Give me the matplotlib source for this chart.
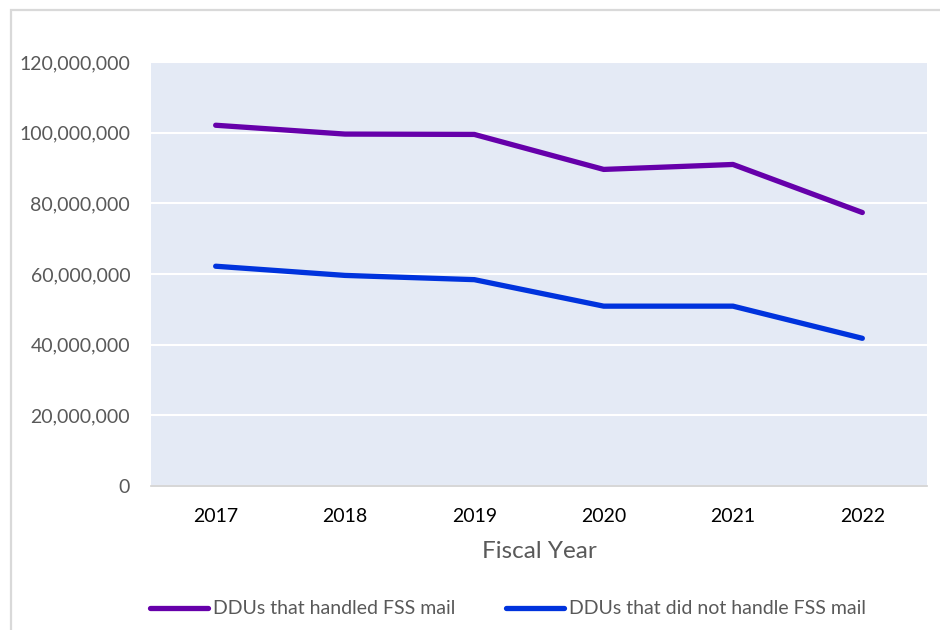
import matplotlib
matplotlib.use("Agg")
import matplotlib.pyplot as plt
from matplotlib.patches import Rectangle
from matplotlib.ticker import FuncFormatter, MultipleLocator

years = ["2017", "2018", "2019", "2020", "2021", "2022"]
handled_fss = [102.1e6, 99.6e6, 99.5e6, 89.6e6, 91.0e6, 77.4e6]
not_handled_fss = [62.2e6, 59.6e6, 58.4e6, 50.9e6, 50.9e6, 41.8e6]
series_labels = ["DDUs that handled FSS mail", "DDUs that did not handle FSS mail"]

plt.rcParams["font.family"] = ["Lato", "DejaVu Sans"]

W, H = 940, 630
fig = plt.figure(figsize=(W / 100, H / 100), dpi=100)
fig.patch.set_facecolor("white")

# outer chart frame
fig.add_artist(Rectangle((10.5 / W, -0.1), 1.2, 1.1 - 10.5 / H, transform=fig.transFigure,
                         fill=False, edgecolor="#D9D9D9", linewidth=1.6))

left, right, top, bottom = 151, 927, 62, 486
ax = fig.add_axes([left / W, 1 - bottom / H, (right - left) / W, (bottom - top) / H])
ax.set_facecolor("#E4EAF5")

x = list(range(len(years)))
ax.plot(x, handled_fss, color="#6600AA", linewidth=3.8, solid_capstyle="round",
        solid_joinstyle="round", label=series_labels[0], zorder=3)
ax.plot(x, not_handled_fss, color="#0033DD", linewidth=3.8, solid_capstyle="round",
        solid_joinstyle="round", label=series_labels[1], zorder=3)

ax.set_xlim(-0.5, len(years) - 0.5)
ax.set_ylim(0, 120e6)
ax.yaxis.set_major_locator(MultipleLocator(20e6))
ax.yaxis.set_major_formatter(FuncFormatter(lambda v, p: f"{int(round(v)):,}"))
ax.set_xticks(x)
ax.set_xticklabels(years)

ax.grid(axis="y", color="white", linewidth=1.5)
ax.set_axisbelow(True)
for s in ["top", "right", "left"]:
    ax.spines[s].set_visible(False)
ax.spines["bottom"].set_color("#D0D0D0")
ax.spines["bottom"].set_linewidth(1.2)

ax.tick_params(axis="y", length=0, pad=15, labelsize=14, labelcolor="#595959")
ax.tick_params(axis="x", length=0, pad=16, labelsize=14, labelcolor="#000000")

ax.set_xlabel("Fiscal Year", fontsize=17.5, color="#595959", labelpad=11)

fig.legend(loc="center", bbox_to_anchor=(508 / W, 1 - 609 / H), ncol=2, frameon=False,
           fontsize=14, labelcolor="#595959", handlelength=3.0, handletextpad=0.25,
           columnspacing=2.6)

fig.savefig("out.png", dpi=100, facecolor="white")
